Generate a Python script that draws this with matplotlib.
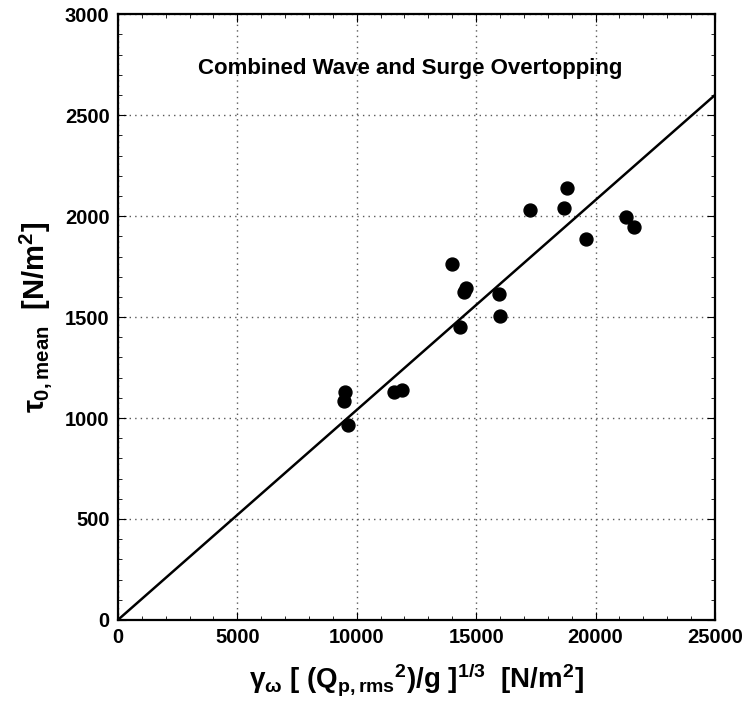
import numpy as np
import matplotlib
matplotlib.use('Agg')
from matplotlib import pyplot as plt
from matplotlib.ticker import MultipleLocator

plt.rcParams['font.family'] = 'Liberation Sans'
plt.rcParams['font.weight'] = 'bold'
plt.rcParams['mathtext.fontset'] = 'custom'
plt.rcParams['mathtext.rm'] = 'Liberation Sans:bold'
plt.rcParams['mathtext.it'] = 'Liberation Sans:bold'
plt.rcParams['mathtext.bf'] = 'Liberation Sans:bold'

# measured points
x_data = [9515, 9456, 9623, 11565, 11912, 13975, 14477, 14575, 14340, 15971,
          16013, 17255, 18690, 18802, 19598, 21272, 21590]
y_data = [1129, 1083, 964, 1129, 1137, 1764, 1623, 1642, 1451, 1612,
          1506, 2033, 2040, 2141, 1885, 1996, 1946]

# fitted line through origin
line_x = [0, 25000]
line_y = [0, 2600]

title = 'Combined Wave and Surge Overtopping'

fig = plt.figure(figsize=(7.51, 7.15), dpi=100)
ax = fig.add_axes([0.157, 0.133, 0.795, 0.847])

ax.plot(line_x, line_y, color='black', lw=1.8)
ax.plot(x_data, y_data, 'o', color='black', ms=9.3)

ax.set_xlim(0, 25000)
ax.set_ylim(0, 3000)
ax.xaxis.set_major_locator(MultipleLocator(5000))
ax.xaxis.set_minor_locator(MultipleLocator(1000))
ax.yaxis.set_major_locator(MultipleLocator(500))
ax.yaxis.set_minor_locator(MultipleLocator(100))
ax.tick_params(which='both', direction='in', top=True, right=True)
ax.tick_params(which='major', length=6, labelsize=14.5, pad=6)
ax.tick_params(which='minor', length=3)
for lab in ax.get_xticklabels() + ax.get_yticklabels():
    lab.set_fontweight('bold')
for s in ax.spines.values():
    s.set_linewidth(1.6)

ax.grid(True, which='major', ls=(0, (1, 3)), color='0.35', lw=1.0)

ax.text(0.49, 0.911, title, transform=ax.transAxes, ha='center', va='center',
        fontsize=16, fontweight='bold')

ax.set_xlabel(r'$\gamma_\omega$ [ (Q$_{p,rms}$$^{2}$)/g ]$^{1/3}$  [N/m$^{2}$]',
              fontsize=20, fontweight='bold', labelpad=10)
ax.set_ylabel(r'$\tau_{0,mean}$  [N/m$^{2}$]', fontsize=21, fontweight='bold',
              labelpad=8)

fig.savefig('out.png', dpi=100)
